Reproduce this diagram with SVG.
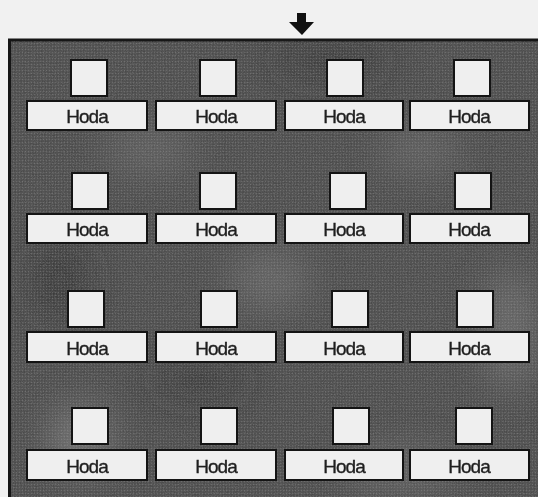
<svg xmlns="http://www.w3.org/2000/svg" width="538" height="497" viewBox="0 0 538 497">
<defs>
<style>
.sq{fill:#efefef;stroke:#141414;stroke-width:2}
.lb{fill:#efefef;stroke:#141414;stroke-width:2}
.tx{font-family:"Liberation Sans",Arial,sans-serif;font-size:19px;fill:#1e1e1e;stroke:#1e1e1e;stroke-width:0.35;text-anchor:middle;letter-spacing:-1px}
</style>
<pattern id="dots" width="3" height="3" patternUnits="userSpaceOnUse">
<rect width="3" height="3" fill="none"/>
<circle cx="1.5" cy="1.5" r="0.8" fill="#9a9a9a" opacity="0.35"/>
</pattern>
<filter id="noise" x="0" y="0" width="100%" height="100%">
<feTurbulence type="fractalNoise" baseFrequency="0.9" numOctaves="2" seed="3" result="n"/>
<feColorMatrix type="matrix" values="0 0 0 0 0.3  0 0 0 0 0.3  0 0 0 0 0.3  0 0 0 0.9 -0.25"/>
</filter>
<filter id="blur" x="-50%" y="-50%" width="200%" height="200%"><feGaussianBlur stdDeviation="18"/></filter>
<clipPath id="pc"><rect x="9" y="40" width="529" height="457"/></clipPath>
</defs>
<rect x="0" y="0" width="538" height="497" fill="#f1f1f1"/>
<g id="panel">
<rect x="9.5" y="40" width="531" height="460" fill="#4a4a4a" stroke="#161616" stroke-width="3"/>
<g clip-path="url(#pc)" filter="url(#blur)" fill="#7a7a7a">
<ellipse cx="80" cy="440" rx="30" ry="35" opacity="0.8"/>
<ellipse cx="270" cy="280" rx="40" ry="30" opacity="0.5"/>
<ellipse cx="510" cy="330" rx="25" ry="60" opacity="0.6"/>
<ellipse cx="150" cy="150" rx="45" ry="25" opacity="0.4"/>
<ellipse cx="420" cy="150" rx="40" ry="25" opacity="0.4"/>
<ellipse cx="400" cy="470" rx="60" ry="20" opacity="0.5"/>
</g>
<g clip-path="url(#pc)" fill="#2e2e2e" filter="url(#blur)">
<ellipse cx="60" cy="280" rx="30" ry="40" opacity="0.6"/>
<ellipse cx="330" cy="60" rx="60" ry="20" opacity="0.5"/>
<ellipse cx="200" cy="380" rx="50" ry="20" opacity="0.5"/>
</g>
<rect x="11" y="41.5" width="527" height="456" filter="url(#noise)" opacity="0.6"/>
<rect x="11" y="41.5" width="527" height="456" fill="url(#dots)"/>
</g>
<g id="connectors">
<path d="M297 13 H306 V22 H314 L302 35 L289 22 H297 Z" fill="#111"/>
</g>
<g id="node-1-1"><rect class="sq" x="71" y="60" width="36" height="36"/><rect class="lb" x="27" y="101" width="120" height="29"/><text class="tx" x="87" y="123">Hoda</text></g>
<g id="node-1-2"><rect class="sq" x="200" y="60" width="36" height="36"/><rect class="lb" x="156" y="101" width="120" height="29"/><text class="tx" x="216" y="123">Hoda</text></g>
<g id="node-1-3"><rect class="sq" x="327" y="60" width="36" height="36"/><rect class="lb" x="285" y="101" width="118" height="29"/><text class="tx" x="344" y="123">Hoda</text></g>
<g id="node-1-4"><rect class="sq" x="454" y="60" width="36" height="36"/><rect class="lb" x="410" y="101" width="119" height="29"/><text class="tx" x="469" y="123">Hoda</text></g>
<g id="node-2-1"><rect class="sq" x="72" y="173" width="36" height="36"/><rect class="lb" x="27" y="214" width="120" height="29"/><text class="tx" x="87" y="236">Hoda</text></g>
<g id="node-2-2"><rect class="sq" x="200" y="173" width="36" height="36"/><rect class="lb" x="156" y="214" width="120" height="29"/><text class="tx" x="216" y="236">Hoda</text></g>
<g id="node-2-3"><rect class="sq" x="330" y="173" width="36" height="36"/><rect class="lb" x="285" y="214" width="118" height="29"/><text class="tx" x="344" y="236">Hoda</text></g>
<g id="node-2-4"><rect class="sq" x="455" y="173" width="36" height="36"/><rect class="lb" x="410" y="214" width="119" height="29"/><text class="tx" x="469" y="236">Hoda</text></g>
<g id="node-3-1"><rect class="sq" x="68" y="291" width="36" height="36"/><rect class="lb" x="27" y="332" width="120" height="30"/><text class="tx" x="87" y="355">Hoda</text></g>
<g id="node-3-2"><rect class="sq" x="201" y="291" width="36" height="36"/><rect class="lb" x="156" y="332" width="120" height="30"/><text class="tx" x="216" y="355">Hoda</text></g>
<g id="node-3-3"><rect class="sq" x="332" y="291" width="36" height="36"/><rect class="lb" x="285" y="332" width="118" height="30"/><text class="tx" x="344" y="355">Hoda</text></g>
<g id="node-3-4"><rect class="sq" x="457" y="291" width="36" height="36"/><rect class="lb" x="410" y="332" width="119" height="30"/><text class="tx" x="469" y="355">Hoda</text></g>
<g id="node-4-1"><rect class="sq" x="72" y="408" width="36" height="36"/><rect class="lb" x="27" y="450" width="120" height="30"/><text class="tx" x="87" y="473">Hoda</text></g>
<g id="node-4-2"><rect class="sq" x="201" y="408" width="36" height="36"/><rect class="lb" x="156" y="450" width="120" height="30"/><text class="tx" x="216" y="473">Hoda</text></g>
<g id="node-4-3"><rect class="sq" x="333" y="408" width="36" height="36"/><rect class="lb" x="285" y="450" width="118" height="30"/><text class="tx" x="344" y="473">Hoda</text></g>
<g id="node-4-4"><rect class="sq" x="456" y="408" width="36" height="36"/><rect class="lb" x="410" y="450" width="119" height="30"/><text class="tx" x="469" y="473">Hoda</text></g>
</svg>
